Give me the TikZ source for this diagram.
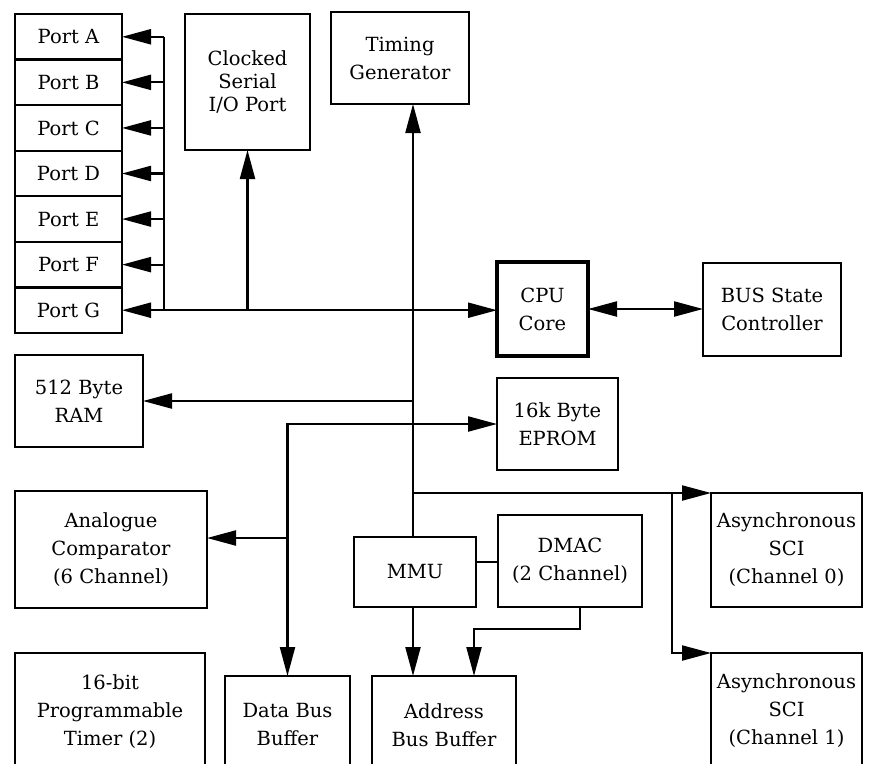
\documentclass[tikz,border=0pt]{standalone}
\usepackage{fontspec}
\setmainfont{DejaVu Serif}
\usetikzlibrary{arrows.meta}
\begin{document}
\begin{tikzpicture}[x=1pt,y=-1pt,
  box/.style={draw, line width=2.2pt, align=center, inner sep=0pt, outer sep=0pt,
    anchor=north west, font=\fontsize{19.5}{28}\selectfont},
  ln/.style={line width=2.2pt},
  arr/.style={ln, -{Triangle[length=29pt,width=15pt]}},
  arrb/.style={ln, {Triangle[length=29pt,width=15pt]}-{Triangle[length=29pt,width=15pt]}},
  cutlab/.style={anchor=north, align=center, inner sep=0pt, font=\fontsize{19.5}{28}\selectfont}
]
\useasboundingbox (0,0) rectangle (882,763);
\fill[white] (0,0) rectangle (882,763);
\clip (0,0) rectangle (882,763);

% ports
\node[box, minimum width=107pt, minimum height=45.57pt] (pA) at (15,14) {Port A};
\node[box, minimum width=107pt, minimum height=45.57pt] (pB) at (15,59.57) {Port B};
\node[box, minimum width=107pt, minimum height=45.57pt] (pC) at (15,105.14) {Port C};
\node[box, minimum width=107pt, minimum height=45.57pt] (pD) at (15,150.71) {Port D};
\node[box, minimum width=107pt, minimum height=45.57pt] (pE) at (15,196.28) {Port E};
\node[box, minimum width=107pt, minimum height=45.57pt] (pF) at (15,241.85) {Port F};
\node[box, minimum width=107pt, minimum height=45.57pt] (pG) at (15,287.42) {Port G};

\node[box, minimum width=125pt, minimum height=136pt, font=\fontsize{19.5}{23}\selectfont] (csio) at (185,14) {Clocked\\Serial\\I/O Port};
\node[box, minimum width=138pt, minimum height=92pt] (tg) at (331,12) {Timing\\Generator};
\node[box, minimum width=91pt, minimum height=94pt, line width=4pt] (cpu) at (497,262) {CPU\\Core};
\node[box, minimum width=138pt, minimum height=93pt] (bsc) at (703,263) {BUS State\\Controller};
\node[box, minimum width=128pt, minimum height=92pt] (ram) at (15,355) {512 Byte\\RAM};
\node[box, minimum width=121pt, minimum height=92pt] (eprom) at (497,378) {16k Byte\\EPROM};
\node[box, minimum width=192pt, minimum height=117pt] (ac) at (15,491) {Analogue\\Comparator\\(6 Channel)};
\node[box, minimum width=122pt, minimum height=70pt] (mmu) at (354,537) {MMU};
\node[box, minimum width=144pt, minimum height=92pt] (dmac) at (498,515) {DMAC\\(2 Channel)};
\node[box, minimum width=151pt, minimum height=114pt] (sci0) at (711,493) {Asynchronous\\SCI\\(Channel 0)};

% boxes cut by the lower edge
\node[box, minimum width=190pt, minimum height=200pt,
  label={[cutlab, yshift=-21pt]north:16-bit\\Programmable\\Timer (2)}] (timer) at (15,653) {};
\node[box, minimum width=125pt, minimum height=200pt,
  label={[cutlab, yshift=-27pt]north:Data Bus\\Buffer}] (dbb) at (225,676) {};
\node[box, minimum width=144pt, minimum height=200pt,
  label={[cutlab, yshift=-27pt]north:Address\\Bus Buffer}] (abb) at (372,676) {};
\node[box, minimum width=151pt, minimum height=200pt,
  label={[cutlab, yshift=-20pt]north:Asynchronous\\SCI\\(Channel 1)}] (sci1) at (711,653) {};

% helper coordinates
\coordinate (bus) at (164,0);
\coordinate (vx) at (413,0);
\coordinate (sx) at (672,0);
\coordinate (dmx) at (580,0);
\coordinate (ax) at (474,629);

% port bus
\draw[ln] (pA.east -| bus) -- (pG.east -| bus);
\foreach \p in {pA,pB,pC,pD,pE,pF}
  \draw[arr] (\p.east -| bus) -- (\p.east);
\draw[arrb] (pG.east) -- (pG.east -| cpu.west);
\draw[arr] (csio.south |- pG.east) -- (csio.south);

% central vertical bus
\draw[arr] (vx |- mmu.north) -- (vx |- tg.south);
\draw[arrb] (cpu.east) -- (cpu.east -| bsc.west);
\draw[arr] (vx |- ram.east) -- (ram.east);

% data bus line
\draw[arrb] (dbb.north) |- (eprom.west);
\draw[arr] (dbb.north |- 0,538) -- (ac.east |- 0,538);

% SCI
\draw[arr] (vx |- sci0.north) -- (sci0.north west);
\draw[arr] (sx |- sci0.north) |- (sci1.north west);

% MMU / DMAC
\draw[ln] (mmu.east |- 0,562) -- (dmac.west |- 0,562);
\draw[arr] (vx |- mmu.south) -- (vx |- abb.north);
\draw[arr] (dmac.south -| dmx) |- (ax) -- (ax |- abb.north);
\end{tikzpicture}
\end{document}
